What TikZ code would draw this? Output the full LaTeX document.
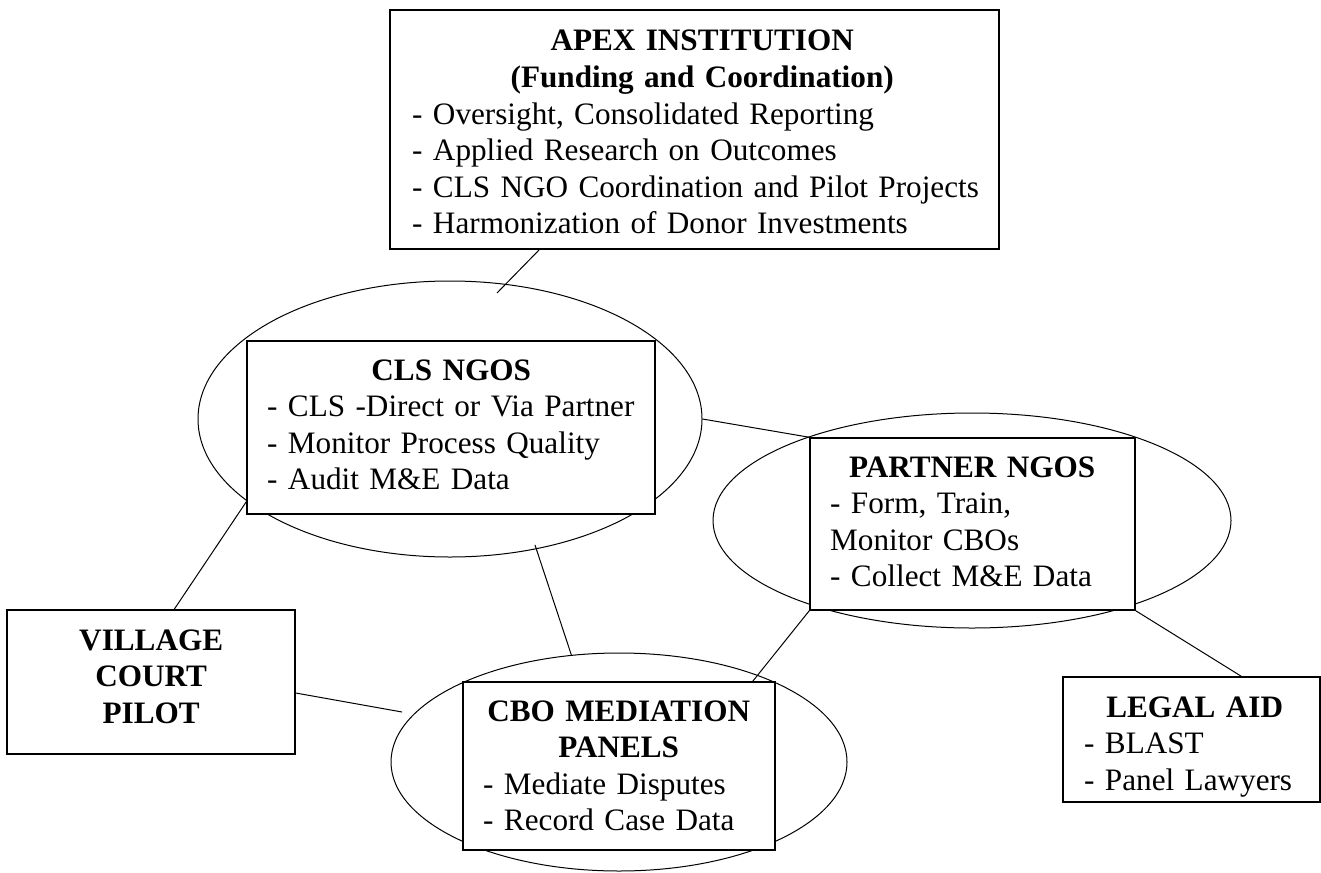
\documentclass[tikz,border=0pt]{standalone}
\usepackage{fontspec}
\setmainfont{Liberation Serif}
\usetikzlibrary{shapes.geometric,calc}

\newcommand{\boxtitle}[2]{\makebox[#1][c]{\textbf{#2}}}

\begin{document}
\begin{tikzpicture}[x=1pt, y=-1pt,
    box/.style={draw, line width=1.5pt, fill=white, rectangle, inner sep=0pt},
    oval/.style={draw, line width=1pt, ellipse, inner sep=0pt},
    txt/.style={inner sep=0pt, anchor=base west, text width=700pt, font=\fontsize{31.2}{36.6}\selectfont},
    link/.style={line width=1pt}]
\useasboundingbox (0,0) rectangle (1321,872);

\node[oval, minimum width=504pt, minimum height=276pt] (clsoval) at (450,419) {};
\node[oval, minimum width=518pt, minimum height=215pt] (partneroval) at (972,520.5) {};
\node[oval, minimum width=456pt, minimum height=218pt] (cbooval) at (619,762) {};

\node[box, minimum width=609pt, minimum height=239pt] (apex) at (694.5,129.5) {};
\node[box, minimum width=408pt, minimum height=173pt] (cls) at (451,427.5) {};
\node[box, minimum width=325pt, minimum height=172pt] (partner) at (972.5,524) {};
\node[box, minimum width=312pt, minimum height=168pt] (cbo) at (619,766) {};
\node[box, minimum width=288pt, minimum height=144pt] (village) at (151,682) {};
\node[box, minimum width=257pt, minimum height=125pt] (legal) at (1191.5,739.5) {};

\node[txt] (apextext) at (412,51) {\raggedright
\boxtitle{580pt}{APEX INSTITUTION}\\\boxtitle{580pt}{(Funding and Coordination)}\\
- Oversight, Consolidated Reporting\\- Applied Research on Outcomes\\- CLS NGO Coordination and Pilot Projects\\- Harmonization of Donor Investments\par};
\node[txt] (clstext) at (267,380) {\raggedright
\boxtitle{368pt}{CLS NGOS}\\
- CLS -Direct or Via Partner\\- Monitor Process Quality\\- Audit M\&E Data\par};
\node[txt] (partnertext) at (830,477) {\raggedright
\boxtitle{284pt}{PARTNER NGOS}\\
- Form, Train,\\Monitor CBOs\\- Collect M\&E Data\par};
\node[txt] (cbotext) at (483,721) {\raggedright
\boxtitle{271pt}{CBO MEDIATION}\\\boxtitle{271pt}{PANELS}\\
- Mediate Disputes\\- Record Case Data\par};
\node[txt] (villagetext) at (21,650) {\raggedright
\boxtitle{260pt}{VILLAGE}\\\boxtitle{260pt}{COURT}\\\boxtitle{260pt}{PILOT}\par};
\node[txt] (legaltext) at (1084,717) {\raggedright
\boxtitle{221pt}{LEGAL AID}\\
- BLAST\\- Panel Lawyers\par};

\coordinate (apexend) at (497,293);
\coordinate (clsfoot) at (535,545);
\coordinate (cboside) at (402,712);

\draw[link] ($(apex.south west)+(150,0)$) -- (apexend);
\draw[link] (clsoval.east) -- (partner.north west);
\draw[link] (clsoval.202) -- ($(village.north west)+(168,0)$);
\draw[link] (clsfoot) -- (cbooval.114.6);
\draw[link] ($(village.east)+(0,11)$) -- (cboside);
\draw[link] (partner.south west) -- ($(cbo.north east)+(-23,0)$);
\draw[link] (partner.south east) -- ($(legal.north west)+(179,0)$);
\end{tikzpicture}
\end{document}
